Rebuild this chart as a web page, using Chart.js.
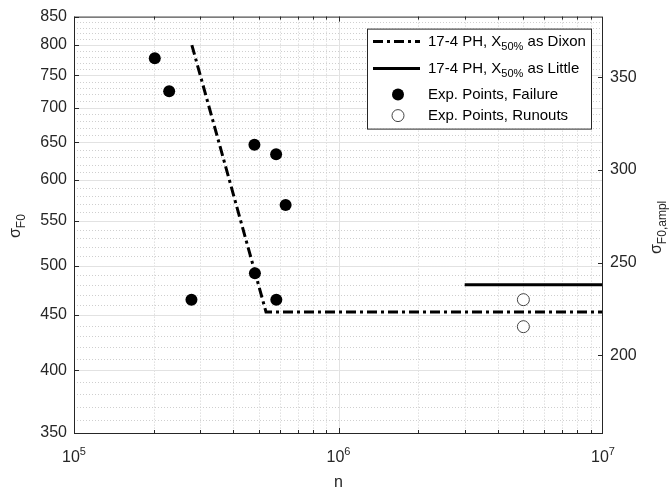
<!DOCTYPE html>
<html lang="en">
<head>
<meta charset="UTF-8">
<title>17-4 PH staircase</title>
<script src="https://cdn.jsdelivr.net/npm/chart.js"></script>
<style>
  body { margin: 0; background: #fff; }
  #wrap { width: 671px; height: 490px; }
</style>
</head>
<body>
<div id="wrap"><canvas id="sn" width="671" height="490"></canvas></div>
<script>
// values
const failN = [2.02e5, 2.29e5, 2.78e5, 4.81e5, 4.83e5, 5.81e5, 5.82e5, 6.31e5];
const failS = [778, 725, 465, 647, 492, 634, 465, 569];
const runN = [5e6, 5e6];
const runS = [465, 439];
const dixonN = [2.79e5, 5.32e5, 1e7];
const dixonS = [800, 453, 453];
const littleN = [3e6, 1e7];
const littleS = [480, 480];

const leftTicks = [350, 400, 450, 500, 550, 600, 650, 700, 750, 800, 850];
const rightTicks = [200, 250, 300, 350];
const rightRange = [158.2, 382.7];
const decades = [1e5, 1e6, 1e7];

const FONT = '"Liberation Sans", Arial, sans-serif';
const INK = '#262626';
const DASHDOT = [10, 4, 3, 4];

const pts = (xs, ys) => xs.map((x, i) => ({ x: x, y: ys[i] }));

// grid lines under the data
const gridPlugin = {
  id: 'grid',
  beforeDatasetsDraw(chart) {
    const { ctx, chartArea: a, scales } = chart;
    const xs = scales.x, ys = scales.y;
    ctx.save();
    ctx.lineWidth = 1;
    // minor, dotted
    ctx.strokeStyle = '#cfcfcf';
    ctx.setLineDash([1, 2]);
    for (const d of [1e5, 1e6]) {
      for (let k = 2; k <= 9; k++) {
        const px = Math.round(xs.getPixelForValue(k * d)) + 0.5;
        ctx.beginPath(); ctx.moveTo(px, a.top); ctx.lineTo(px, a.bottom); ctx.stroke();
      }
    }
    for (let v = 360; v < 850; v += 10) {
      if (v % 50 === 0) continue;
      const py = Math.round(ys.getPixelForValue(v)) + 0.5;
      ctx.beginPath(); ctx.moveTo(a.left, py); ctx.lineTo(a.right, py); ctx.stroke();
    }
    // major, solid
    ctx.setLineDash([]);
    ctx.strokeStyle = '#e2e2e2';
    for (const v of leftTicks.slice(1, -1)) {
      const py = Math.round(ys.getPixelForValue(v)) + 0.5;
      ctx.beginPath(); ctx.moveTo(a.left, py); ctx.lineTo(a.right, py); ctx.stroke();
    }
    const mx = Math.round(xs.getPixelForValue(1e6)) + 0.5;
    ctx.beginPath(); ctx.moveTo(mx, a.top); ctx.lineTo(mx, a.bottom); ctx.stroke();
    ctx.restore();
  }
};

// text with a subscript, drawn at current transform
function subText(ctx, parts, x, y) {
  let cx = x;
  for (const p of parts) {
    ctx.font = (p.size || 15) + 'px ' + FONT;
    ctx.fillText(p.t, cx, y + (p.dy || 0));
    cx += ctx.measureText(p.t).width;
  }
}

// box, ticks, tick labels on x, titles and legend
const frontPlugin = {
  id: 'front',
  afterDraw(chart) {
    const { ctx, chartArea: a, scales } = chart;
    const xs = scales.x, ys = scales.y, y2 = scales.y2;
    ctx.save();
    ctx.strokeStyle = INK;
    ctx.lineWidth = 1;
    ctx.strokeRect(a.left + 0.5, a.top + 0.5, a.right - a.left - 1, a.bottom - a.top);

    // inward ticks
    ctx.beginPath();
    for (const d of [1e5, 1e6]) {
      for (let k = 1; k <= 9; k++) {
        const px = Math.round(xs.getPixelForValue(k * d)) + 0.5;
        const len = k === 1 ? 5 : 3;
        ctx.moveTo(px, a.bottom); ctx.lineTo(px, a.bottom - len);
        ctx.moveTo(px, a.top); ctx.lineTo(px, a.top + len);
      }
    }
    for (const v of leftTicks) {
      const py = Math.round(ys.getPixelForValue(v)) + 0.5;
      ctx.moveTo(a.left, py); ctx.lineTo(a.left + 5, py);
    }
    for (const v of rightTicks) {
      const py = Math.round(y2.getPixelForValue(v)) + 0.5;
      ctx.moveTo(a.right, py); ctx.lineTo(a.right - 5, py);
    }
    ctx.stroke();

    // x tick labels 10^k
    ctx.fillStyle = INK;
    ctx.textBaseline = 'alphabetic';
    decades.forEach(d => {
      const px = xs.getPixelForValue(d);
      const e = String(Math.round(Math.log10(d)));
      ctx.font = '16px ' + FONT;
      const w1 = ctx.measureText('10').width;
      ctx.font = '11px ' + FONT;
      const w2 = ctx.measureText(e).width;
      const x0 = px - (w1 + w2) / 2;
      ctx.font = '16px ' + FONT;
      ctx.fillText('10', x0, 462);
      ctx.font = '11px ' + FONT;
      ctx.fillText(e, x0 + w1, 455);
    });

    // axis titles
    ctx.font = '16px ' + FONT;
    ctx.textAlign = 'center';
    ctx.fillText('n', (a.left + a.right) / 2, 487);
    ctx.textAlign = 'left';

    ctx.save();
    ctx.translate(20, 238);
    ctx.rotate(-Math.PI / 2);
    subText(ctx, [{ t: 'σ', size: 16 }, { t: 'F0', size: 12, dy: 5 }], 0, 0);
    ctx.restore();

    ctx.save();
    ctx.translate(661, 254);
    ctx.rotate(-Math.PI / 2);
    subText(ctx, [{ t: 'σ', size: 16 }, { t: 'F0,ampl', size: 12, dy: 5 }], 0, 0);
    ctx.restore();

    // legend
    const lx = a.right - 12 - 224, ly = a.top + 12;
    ctx.fillStyle = '#fff';
    ctx.fillRect(lx, ly, 224, 100);
    ctx.strokeStyle = INK;
    ctx.strokeRect(lx + 0.5, ly + 0.5, 224, 100);
    const tx = lx + 61;
    const rows = [ly + 13, ly + 40, ly + 66, ly + 87];
    ctx.strokeStyle = '#000';
    ctx.lineWidth = 3;
    ctx.setLineDash(DASHDOT);
    ctx.beginPath(); ctx.moveTo(lx + 6, rows[0]); ctx.lineTo(lx + 53, rows[0]); ctx.stroke();
    ctx.setLineDash([]);
    ctx.beginPath(); ctx.moveTo(lx + 6, rows[1]); ctx.lineTo(lx + 53, rows[1]); ctx.stroke();
    ctx.fillStyle = '#000';
    ctx.beginPath(); ctx.arc(lx + 31, rows[2], 6, 0, Math.PI * 2); ctx.fill();
    ctx.lineWidth = 1;
    ctx.strokeStyle = '#444';
    ctx.fillStyle = '#fff';
    ctx.beginPath(); ctx.arc(lx + 31, rows[3], 6, 0, Math.PI * 2); ctx.fill(); ctx.stroke();

    ctx.fillStyle = '#000';
    ctx.textBaseline = 'middle';
    subText(ctx, [{ t: '17-4 PH, X' }, { t: '50%', size: 11, dy: 5 }, { t: ' as Dixon' }], tx, rows[0]);
    subText(ctx, [{ t: '17-4 PH, X' }, { t: '50%', size: 11, dy: 5 }, { t: ' as Little' }], tx, rows[1]);
    subText(ctx, [{ t: 'Exp. Points, Failure' }], tx, rows[2]);
    subText(ctx, [{ t: 'Exp. Points, Runouts' }], tx, rows[3]);
    ctx.restore();
  }
};

new Chart(document.getElementById('sn'), {
  type: 'scatter',
  data: {
    datasets: [
      {
        label: '17-4 PH, X50% as Dixon',
        type: 'line',
        data: pts(dixonN, dixonS),
        borderColor: '#000',
        borderWidth: 3,
        borderDash: DASHDOT,
        pointRadius: 0,
        fill: false,
        tension: 0
      },
      {
        label: '17-4 PH, X50% as Little',
        type: 'line',
        data: pts(littleN, littleS),
        borderColor: '#000',
        borderWidth: 3,
        pointRadius: 0,
        fill: false
      },
      {
        label: 'Exp. Points, Failure',
        data: pts(failN, failS),
        pointRadius: 6,
        pointBackgroundColor: '#000',
        pointBorderColor: '#000',
        pointBorderWidth: 0
      },
      {
        label: 'Exp. Points, Runouts',
        data: pts(runN, runS),
        pointRadius: 6,
        pointBackgroundColor: '#fff',
        pointBorderColor: '#444',
        pointBorderWidth: 1
      }
    ]
  },
  options: {
    responsive: false,
    animation: false,
    devicePixelRatio: 1,
    layout: { padding: { top: 14, left: 0, right: 0, bottom: 0 } },
    plugins: {
      legend: { display: false },
      tooltip: { enabled: false }
    },
    scales: {
      x: {
        type: 'logarithmic',
        min: 1e5,
        max: 1e7,
        grid: { display: false, drawTicks: false },
        border: { display: false },
        ticks: { display: false },
        afterFit: s => { s.height = 57; }
      },
      y: {
        type: 'logarithmic',
        position: 'left',
        min: 350,
        max: 850,
        grid: { display: false, drawTicks: false },
        border: { display: false },
        afterBuildTicks: s => { s.ticks = leftTicks.map(v => ({ value: v })); },
        ticks: {
          padding: 7,
          color: INK,
          font: { family: FONT, size: 16 },
          callback: v => String(v)
        },
        afterFit: s => { s.width = 74; }
      },
      y2: {
        type: 'linear',
        position: 'right',
        min: rightRange[0],
        max: rightRange[1],
        grid: { display: false, drawTicks: false },
        border: { display: false },
        afterBuildTicks: s => { s.ticks = rightTicks.map(v => ({ value: v })); },
        ticks: {
          padding: 7,
          color: INK,
          font: { family: FONT, size: 16 },
          callback: v => String(v)
        },
        afterFit: s => { s.width = 68; }
      }
    }
  },
  plugins: [gridPlugin, frontPlugin]
});
</script>
</body>
</html>
